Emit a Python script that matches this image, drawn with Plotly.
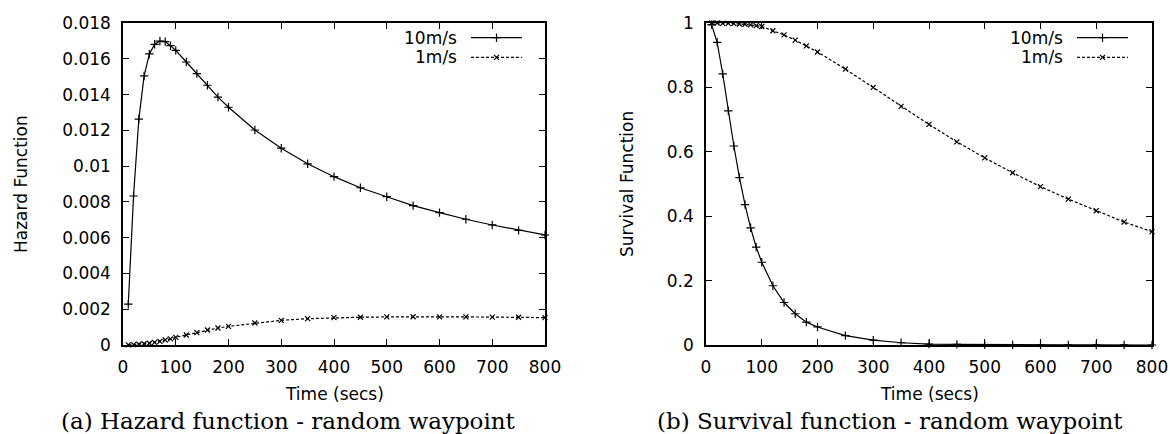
import plotly.graph_objects as go

# ---------------- data ----------------
time_hz10 = [10, 20, 30, 40, 50, 60, 70, 80, 90, 100, 120, 140, 160, 180, 200,
             250, 300, 350, 400, 450, 500, 550, 600, 650, 700, 750, 800]
hazard_10 = [0.00228, 0.00833, 0.01263, 0.01504, 0.01627, 0.01681, 0.01699, 0.01696,
             0.01673, 0.01647, 0.01582, 0.01517, 0.01452, 0.01386, 0.01329,
             0.01202, 0.01100, 0.01013, 0.00941, 0.00879, 0.00829, 0.00779,
             0.00740, 0.00703, 0.00671, 0.00641, 0.00615]

time_hz1 = [10, 20, 30, 40, 50, 60, 70, 80, 90, 100, 120, 140, 160, 180, 200,
            250, 300, 350, 400, 450, 500, 550, 600, 650, 700, 750, 800]
hazard_1 = [0.00001, 0.00002, 0.00004, 0.00007, 0.00010, 0.00015, 0.00020, 0.00028,
            0.00034, 0.00043, 0.00056, 0.00069, 0.00084, 0.00095, 0.00104,
            0.00123, 0.00138, 0.00147, 0.00153, 0.00155, 0.00157, 0.00158,
            0.00157, 0.00157, 0.00156, 0.00155, 0.00153]

time_sv = [10, 20, 30, 40, 50, 60, 70, 80, 90, 100, 120, 140, 160, 180, 200,
           250, 300, 350, 400, 450, 500, 550, 600, 650, 700, 750, 800]
survival_10 = [0.995, 0.940, 0.842, 0.727, 0.618, 0.520, 0.436, 0.364, 0.304, 0.257,
               0.184, 0.132, 0.097, 0.071, 0.056, 0.029, 0.015, 0.007, 0.003,
               0.002, 0.001, 0.0005, 0.0003, 0.0002, 0.0001, 0.0001, 0.0]
survival_1 = [1.0, 1.0, 0.999, 0.999, 0.998, 0.997, 0.996, 0.994, 0.992, 0.989,
              0.976, 0.963, 0.947, 0.929, 0.910, 0.857, 0.800, 0.741, 0.685,
              0.631, 0.581, 0.535, 0.492, 0.453, 0.417, 0.382, 0.352]

series_names = ["10m/s", "1m/s"]
x_ticks = [0, 100, 200, 300, 400, 500, 600, 700, 800]
y_title_left = "Hazard Function"
y_title_right = "Survival Function"
x_title = "Time (secs)"
caption_left = "(a) Hazard function - random waypoint"
caption_right = "(b) Survival function - random waypoint"

# ---------------- styling ----------------
W, H = 1170, 434
SANS = "DejaVu Sans"
SERIF = "DejaVu Serif"
FS = 17

def px_x(p):
    return p / W

def px_y(p):
    return 1 - p / H

line10 = dict(color="black", width=1.2)
line1 = dict(color="black", width=1.2, dash="3px,2px")
mk10 = dict(symbol="cross-thin", size=6, line=dict(color="black", width=1.2), color="black")
mk1 = dict(symbol="x-thin", size=5, line=dict(color="black", width=1.2), color="black")

fig = go.Figure()

fig.add_trace(go.Scatter(x=time_hz10, y=hazard_10, mode="lines+markers", line=line10,
                         marker=mk10, xaxis="x", yaxis="y", cliponaxis=False, showlegend=False))
fig.add_trace(go.Scatter(x=time_hz1, y=hazard_1, mode="lines+markers", line=line1,
                         marker=mk1, xaxis="x", yaxis="y", cliponaxis=False, showlegend=False))
fig.add_trace(go.Scatter(x=time_sv, y=survival_10, mode="lines+markers", line=line10,
                         marker=mk10, xaxis="x2", yaxis="y2", cliponaxis=False, showlegend=False))
fig.add_trace(go.Scatter(x=time_sv, y=survival_1, mode="lines+markers", line=line1,
                         marker=mk1, xaxis="x2", yaxis="y2", cliponaxis=False, showlegend=False))

# legend keys (manual, text left of sample as in gnuplot)
legend_specs = [
    # (text right edge px, line start px, line end px)
    (459, 471, 522),
    (1065, 1077, 1128),
]
legend_rows = [37.7, 57.3]
shapes = []
annotations = []
key_x, key_y, key_sym = [], [], []
for (tx, l0, l1) in legend_specs:
    for i, (name, ry) in enumerate(zip(series_names, legend_rows)):
        annotations.append(dict(x=px_x(tx), y=px_y(ry), xref="paper", yref="paper",
                                text=name, showarrow=False, xanchor="right", yanchor="middle",
                                font=dict(family=SANS, size=FS, color="black")))
        shapes.append(dict(type="line", xref="paper", yref="paper",
                           x0=px_x(l0), x1=px_x(l1), y0=px_y(ry), y1=px_y(ry),
                           line=(line10 if i == 0 else line1)))
        key_x.append((l0 + l1) / 2)
        key_y.append(ry)
        key_sym.append(i)

fig.add_trace(go.Scatter(x=[k for k, s in zip(key_x, key_sym) if s == 0],
                         y=[k for k, s in zip(key_y, key_sym) if s == 0],
                         mode="markers", marker=mk10, xaxis="x3", yaxis="y3",
                         showlegend=False, hoverinfo="skip", cliponaxis=False))
fig.add_trace(go.Scatter(x=[k for k, s in zip(key_x, key_sym) if s == 1],
                         y=[k for k, s in zip(key_y, key_sym) if s == 1],
                         mode="markers", marker=mk1, xaxis="x3", yaxis="y3",
                         showlegend=False, hoverinfo="skip", cliponaxis=False))

# axis titles and captions
def label(x, y, text, font, angle=0):
    return dict(x=px_x(x), y=px_y(y), xref="paper", yref="paper", text=text,
                showarrow=False, xanchor="center", yanchor="middle", textangle=angle,
                font=font)

sans = dict(family=SANS, size=FS, color="black")
serif = dict(family=SERIF, size=23, color="black")
annotations += [
    label(334, 394, x_title, sans),
    label(929, 394, x_title, sans),
    label(21, 184, y_title_left, sans, -90),
    label(627, 184, y_title_right, sans, -90),
    label(288, 421, caption_left, serif),
    label(890, 421, caption_right, serif),
]

axis_common = dict(showline=True, linecolor="black", linewidth=1.5, mirror="ticks",
                   ticks="inside", ticklen=6, tickwidth=1.2, tickcolor="black",
                   showgrid=False, zeroline=False, automargin=False,
                   tickfont=dict(family=SANS, size=FS, color="black"))

fig.update_layout(
    template="none",
    width=W, height=H,
    margin=dict(l=0, r=0, t=0, b=0, pad=0, autoexpand=False),
    paper_bgcolor="white", plot_bgcolor="rgba(0,0,0,0)",
    xaxis=dict(domain=[px_x(123), px_x(545)], range=[0, 800], tickvals=x_ticks,
               anchor="y", ticklabelstandoff=6, **axis_common),
    yaxis=dict(domain=[px_y(345), px_y(23)], range=[0, 0.018], dtick=0.002, tick0=0,
               anchor="x", ticklabelstandoff=7, **axis_common),
    xaxis2=dict(domain=[px_x(706), px_x(1152)], range=[0, 800], tickvals=x_ticks,
                anchor="y2", ticklabelstandoff=6, **axis_common),
    yaxis2=dict(domain=[px_y(345), px_y(23)], range=[0, 1], dtick=0.2, tick0=0,
                anchor="x2", ticklabelstandoff=7, **axis_common),
    xaxis3=dict(domain=[0, 1], range=[0, W], visible=False, anchor="y3",
                fixedrange=True, automargin=False),
    yaxis3=dict(domain=[0, 1], range=[H, 0], visible=False, anchor="x3",
                fixedrange=True, automargin=False),
    shapes=shapes,
    annotations=annotations,
    showlegend=False,
)

fig.write_html("out.html")
